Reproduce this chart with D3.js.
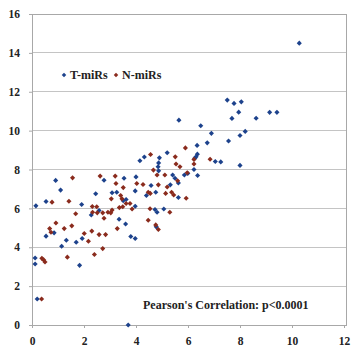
<!DOCTYPE html>
<html><head><meta charset="utf-8">
<script src="https://cdn.jsdelivr.net/npm/d3@7"></script>
<style>html,body{margin:0;padding:0;background:#fff;}svg{display:block;}</style>
</head><body><svg id="c" width="354" height="352"></svg>
<script>
const xTicks = [0,2,4,6,8,10,12];
const yTicks = [0,2,4,6,8,10,12,14,16];
const seriesNames = ["T-miRs","N-miRs"];
const seriesColors = ["#1d428c","#8a2b1d"];
const noteText = "Pearson's Correlation: p<0.0001";

const tX = [0.12,0.12,0.2,3.7,1.83,1.14,1.32,1.70,1.93,0.54,0.85,0.15,0.54,1.91,1.10,2.45,0.91,2.77,3.8,3.97,3.35,3.6,2.28,3.08,3.26,3.51,3.62,3.97,3.97,3.54,4.0,4.15,4.32,4.9,5.2,4.87,4.85,4.87,5.41,4.58,5.32,5.63,5.5,5.86,5.99,6.37,4.4,4.76,5.63,4.73,4.81,5.07,4.78,5.65,6.49,6.9,8.2,8.0,7.56,6.74,6.35,6.36,6.31,6.26,7.05,7.26,8.0,6.23,7.51,7.77,8.05,7.95,7.69,8.62,9.14,9.42,10.28,2.58];
const tY = [3.45,3.14,1.34,0,3.07,4.05,4.36,4.26,4.45,4.57,4.74,6.13,6.35,6.2,6.94,6.75,7.44,7.45,4.55,4.45,5.44,5.2,5.66,6.8,6.83,6.39,6.46,6.9,6.11,7.55,7.62,8.45,8.64,8.6,8.86,8.34,8.14,7.93,7.72,7.18,7.21,7.31,7.55,7.72,7.8,7.69,6.66,6.83,6.56,5.94,5.8,5.97,5.05,10.54,10.25,9.86,9.96,9.75,9.47,9.37,9.24,8.79,8.65,8.58,8.41,8.39,8.21,8.0,11.57,11.4,11.48,10.95,10.63,10.64,10.94,10.94,14.5,5.89];

const nX = [0.37,0.38,0.45,0.5,1.36,2.40,2.72,0.68,0.73,1.24,1.53,0.92,2.01,2.30,2.58,2.83,2.17,1.68,0.77,1.42,2.32,1.56,2.62,3.2,3.23,3.51,4.03,3.05,3.41,3.46,3.62,3.77,2.49,2.33,2.51,2.72,2.92,3.03,3.08,3.36,3.49,3.85,2.77,3.28,4.54,5.3,4.47,4.76,4.86,4.56,4.67,5.54,5.11,4.81,5.6,4.27,4.86,5.2,4.47,4.55,5.14,5.37,5.45,5.93,5.9,5.51,6.23,6.23,6.85,5.69,5.97];
const nY = [1.34,3.43,3.35,3.24,3.49,3.63,3.93,4.96,4.77,4.96,5.1,5.25,4.71,4.83,4.65,4.65,4.31,5.72,6.32,6.37,6.1,7.57,7.66,7.66,7.28,7.07,7.28,6.49,6.66,6.49,6.25,6.25,6.08,5.8,5.77,5.77,5.8,5.77,5.91,6.04,6.08,5.97,5.49,4.96,5.98,5.8,5.39,5.15,4.91,8.77,7.97,8.28,7.72,7.72,7.42,7.23,7.21,7.1,6.83,6.77,6.77,6.83,6.69,6.52,9.11,8.65,8.52,8.28,8.53,8.14,7.83];

const svg = d3.select("#c");
const x = d3.scaleLinear().domain([0,12]).range([32,344]);
const y = d3.scaleLinear().domain([0,16]).range([325,14]);
const font = "'Liberation Serif','DejaVu Serif',serif";

// grid
svg.append("g").selectAll("line").data(yTicks.filter(d=>d>0)).join("line")
  .attr("x1",x(0)).attr("x2",346).attr("y1",d=>y(d)).attr("y2",d=>y(d))
  .attr("stroke","#c4c4c4").attr("stroke-width",1).attr("shape-rendering","crispEdges");
// border
svg.append("rect").attr("x",x(0)).attr("y",y(16)).attr("width",346-x(0)).attr("height",y(0)-y(16))
  .attr("fill","none").attr("stroke","#a8a8a8").attr("shape-rendering","crispEdges");

const xAxis = svg.append("g").attr("transform",`translate(0,${y(0)})`)
  .call(d3.axisBottom(x).tickValues(xTicks).tickSize(3).tickPadding(9).tickFormat(d3.format("d")));
const yAxis = svg.append("g").attr("transform",`translate(${x(0)},0)`)
  .call(d3.axisLeft(y).tickValues(yTicks).tickSize(3).tickPadding(9).tickFormat(d3.format("d")));
[xAxis,yAxis].forEach(a=>{
  a.select(".domain").attr("stroke","#a8a8a8");
  a.selectAll(".tick line").attr("stroke","#a8a8a8");
  a.selectAll("text").attr("font-family",font).attr("font-size","11.5px").attr("font-weight","bold").attr("fill","#222");
});

const sym = d3.symbol().type(d3.symbolSquare).size(13);
function drawSeries(xs, ys, color){
  svg.append("g").selectAll("path").data(xs.map((v,i)=>[v,ys[i]])).join("path")
    .attr("d",sym).attr("fill",color)
    .attr("transform",d=>`translate(${x(d[0])},${y(d[1])}) rotate(45)`);
}
drawSeries(tX,tY,seriesColors[0]);
drawSeries(nX,nY,seriesColors[1]);

// legend
const leg = svg.append("g").attr("transform","translate(64,75)");
const legPos = [0,52];
seriesNames.forEach((n,i)=>{
  leg.append("path").attr("d",d3.symbol().type(d3.symbolSquare).size(10)).attr("fill",seriesColors[i])
    .attr("transform",`translate(${legPos[i]},0) rotate(45)`);
  leg.append("text").attr("x",legPos[i]+6).attr("y",4).text(n)
    .attr("font-family",font).attr("font-size","12px").attr("font-weight","bold").attr("fill","#222");
});

svg.append("text").attr("x",143).attr("y",309).text(noteText)
  .attr("font-family",font).attr("font-size","12px").attr("font-weight","bold").attr("fill","#222");
</script></body></html>
